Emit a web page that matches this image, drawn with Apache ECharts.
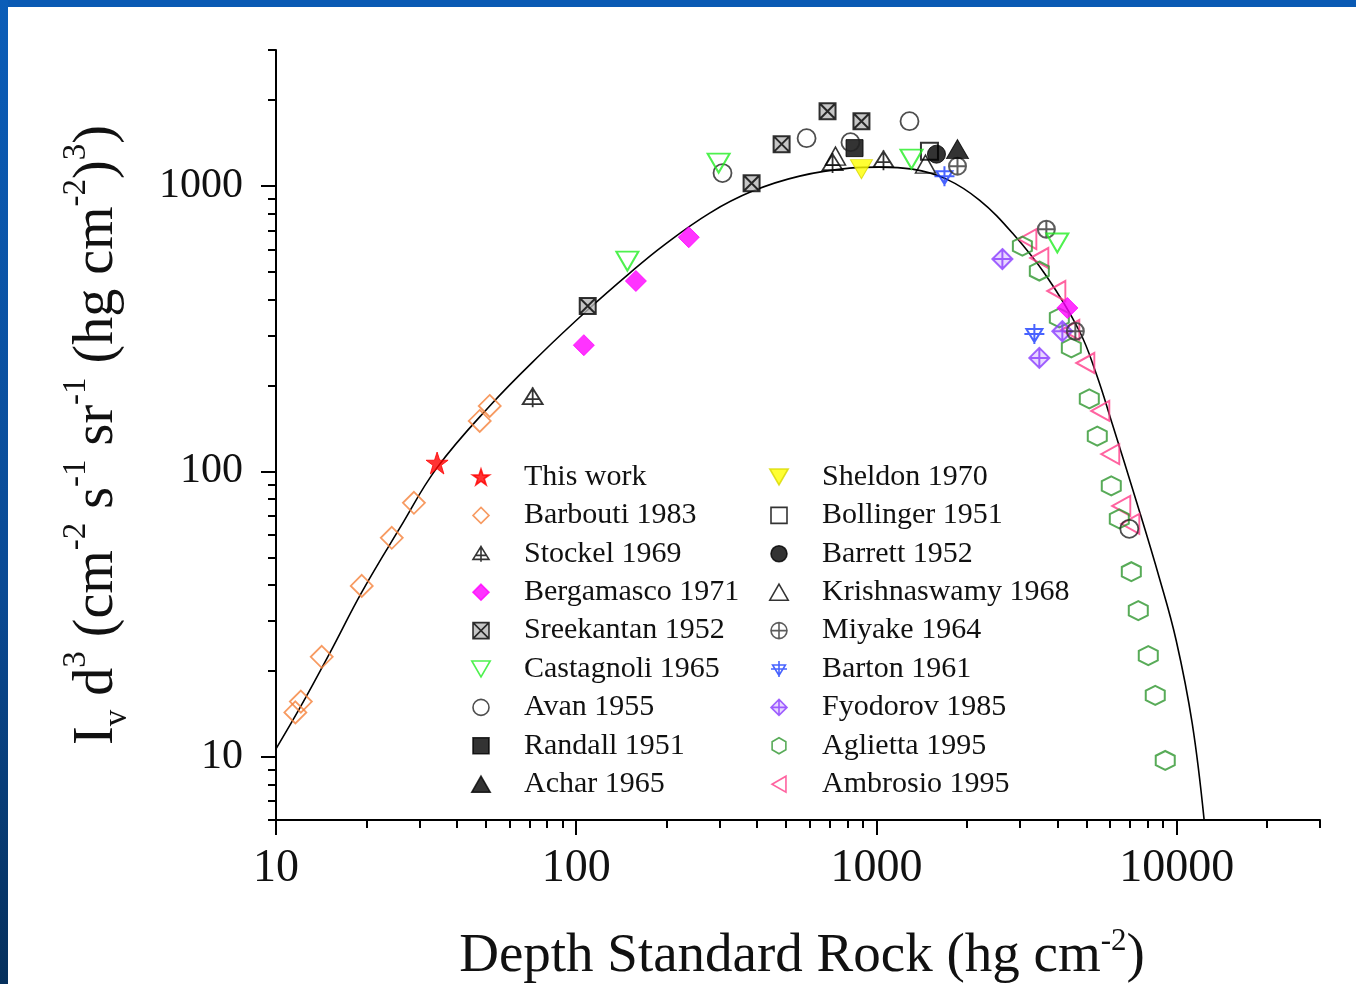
<!DOCTYPE html>
<html>
<head>
<meta charset="utf-8">
<title>Depth intensity</title>
<script src="https://cdn.jsdelivr.net/npm/echarts@6.0.0/dist/echarts.min.js"></script>
<style>
html, body { margin: 0; padding: 0; background: #fff; }
#chart { width: 1356px; height: 984px; }
</style>
</head>
<body>
<div id="chart"></div>
<script>
// fitted curve (depth, I*d^3)
var curve = [[10,10.66],[12.02,14.85],[15.12,23.14],[19.33,37.84],[25.86,63.4],[34.35,102.9],[51.5,169.6],[75.6,255.9],[110,370.9],[150.7,495.8],[194.1,616.6],[278.2,804.5],[386.8,960.5],[554.3,1084],[813.2,1156],[1023,1166],[1317,1147],[1710,1058],[2202,893],[2836,684.5],[3679,483.9],[4738,310.6],[5397,219.5],[6101,146.7],[7332,78.8],[8747,42.4],[9962,25.5],[11264,13.05],[12344,5.97]];

// measurements
var thisWork = [[34.4,107]];
var barbouti = [[51.5,169.6],[47.7,150.3],[28.8,77.6],[24.3,58.5],[19.3,39.7],[14.2,22.4],[12.1,15.6],[11.6,14.3]];
var stockel = [[71.6,182],[714,1204],[1055,1233]];
var bergamasco = [[106,277],[158,465],[237,662],[4322,374]];
var sreekantan = [[109.2,380],[383.7,1024],[483,1403],[687,1831],[891,1689]];
var castagnoli = [[298,1204],[1308,1243],[148,546],[4002,632]];
var avan = [[307,1111],[585,1472],[1288,1689],[819,1426],[6950,62.9]];
var randall = [[845,1359]];
var achar = [[1861,1348]];
var sheldon = [[891,1147]];
var bollinger = [[1501,1326]];
var barrett = [[1584,1294]];
var krishnaswamy = [[730,1274],[1456,1194]];
var miyake = [[3679,706],[1861,1175],[4595,310]];
var barton = [[1684,1084],[3356,303]];
var fyodorov = [[2626,555],[3486,250],[4159,310]];
var aglietta = [[3061,616],[3486,504],[4064,345],[4456,271],[5114,179.5],[5437,133],[6053,89],[6437,68.2],[7058,44.5],[7446,32.5],[8039,22.6],[8481,16.4],[9156,9.7]];
var ambrosio = [[3180,652],[3486,560],[3972,429],[4422,313],[4961,240],[5565,163],[6006,115],[6536,75.7],[7004,65.5]];

var legendLeft = ['This work','Barbouti 1983','Stockel 1969','Bergamasco 1971','Sreekantan 1952','Castagnoli 1965','Avan 1955','Randall 1951','Achar 1965'];
var legendRight = ['Sheldon 1970','Bollinger 1951','Barrett 1952','Krishnaswamy 1968','Miyake 1964','Barton 1961','Fyodorov 1985','Aglietta 1995','Ambrosio 1995'];

var xMajor = [10, 100, 1000, 10000];
var xMinor = [20,30,40,50,60,70,80,90,200,300,400,500,600,700,800,900,2000,3000,4000,5000,6000,7000,8000,9000,20000,30000];
var yMajor = [10, 100, 1000];
var yMinor = [6,7,8,9,20,30,40,50,60,70,80,90,200,300,400,500,600,700,800,900,2000,3000];

var SERIF = "'Liberation Serif', 'Times New Roman', serif";

// symbol shapes
var S = {
  star: 'path://M50,0 L61.8,35.4 L100,35.4 L69.1,57.3 L80.9,95.1 L50,72.4 L19.1,95.1 L30.9,57.3 L0,35.4 L38.2,35.4 Z',
  diamond: 'path://M50,0 L100,50 L50,100 L0,50 Z',
  circle: 'path://M0,50 A50,50 0 1,1 100,50 A50,50 0 1,1 0,50 Z',
  square: 'path://M0,0 L100,0 L100,100 L0,100 Z',
  triUp: 'path://M50,0 L100,87 L0,87 Z',
  triDown: 'path://M0,0 L100,0 L50,87 Z',
  triLeft: 'path://M0,50 L87,0 L87,100 Z',
  hexagon: 'path://M50,0 L93,25 L93,75 L50,100 L7,75 L7,25 Z',
  triPlus: 'path://M50,5 L100,85 L0,85 Z M50,0 L50,100 M12,60 L88,60',
  boxX: 'path://M0,0 L100,0 L100,100 L0,100 Z M0,0 L100,100 M100,0 L0,100',
  circlePlus: 'path://M0,50 A50,50 0 1,1 100,50 A50,50 0 1,1 0,50 Z M50,0 L50,100 M0,50 L100,50',
  trident: 'path://M10,25 L90,25 L50,90 Z M50,0 L50,100 M0,50 L100,50',
  diamondPlus: 'path://M50,0 L100,50 L50,100 L0,50 Z M50,0 L50,100 M0,50 L100,50'
};

var NONE = 'rgba(0,0,0,0)';
function sc(name, data, symbol, size, fill, stroke, bw) {
  return {
    name: name, type: 'scatter', data: data, symbol: symbol, symbolSize: size,
    itemStyle: { color: fill, borderColor: stroke, borderWidth: bw },
    z: 3
  };
}

var series = [
  { name: 'fit', type: 'line', data: curve, smooth: 0.4, showSymbol: false, symbol: 'none',
    lineStyle: { color: '#000', width: 1.6 }, z: 2, silent: true },
  sc('Ambrosio 1995', ambrosio, S.triLeft, [18, 20], NONE, '#ff3c88', 2),
  sc('Aglietta 1995', aglietta, S.hexagon, [19, 19], NONE, '#2e962e', 2),
  sc('Fyodorov 1985', fyodorov, S.diamondPlus, [20, 20], 'rgba(138,60,255,0.25)', '#8a3cff', 2),
  sc('Barton 1961', barton, S.trident, [20, 20], NONE, '#1a3cff', 2),
  sc('Miyake 1964', miyake, S.circlePlus, [17, 17], NONE, '#333', 2),
  sc('Krishnaswamy 1968', krishnaswamy, S.triUp, [20, 18], NONE, '#000', 1.5),
  sc('Barrett 1952', barrett, S.circle, [18, 18], '#000', '#000', 1),
  sc('Bollinger 1951', bollinger, S.square, [17, 17], NONE, '#000', 2),
  sc('Sheldon 1970', sheldon, S.triDown, [22, 19], '#ffff00', '#d8d800', 1),
  sc('Achar 1965', achar, S.triUp, [22, 19], '#000', '#000', 1),
  sc('Randall 1951', randall, S.square, [17, 17], '#000', '#000', 1),
  sc('Avan 1955', avan, S.circle, [18, 18], NONE, '#222', 1.8),
  sc('Castagnoli 1965', castagnoli, S.triDown, [22, 19], NONE, '#22ee22', 2),
  sc('Sreekantan 1952', sreekantan, S.boxX, [16, 16], '#b8b8b8', '#000', 2),
  sc('Bergamasco 1971', bergamasco, S.diamond, [21, 21], '#ff00ff', '#ff00ff', 1),
  sc('Stockel 1969', stockel, S.triPlus, [20, 20], NONE, '#000', 1.8),
  sc('Barbouti 1983', barbouti, S.diamond, [22, 22], NONE, '#f5813a', 1.8),
  sc('This work', thisWork, S.star, [22, 22], '#ff0000', '#ff0000', 1)
];

function legendAt(left, names) {
  return {
    data: names, orient: 'vertical', left: left, top: 457,
    itemWidth: 76, itemHeight: 16, itemGap: 8.4, symbolKeepAspect: true,
    selectedMode: false,
    itemStyle: { borderWidth: 1.6 },
    textStyle: { fontFamily: SERIF, fontSize: 30, color: '#111', lineHeight: 30 }
  };
}

var tickLine = { color: '#000', width: 2 };

var option = {
  animation: false,
  backgroundColor: '#fff',
  grid: { left: 276, right: 36, top: 50, bottom: 164, outerBoundsMode: 'none' },
  graphic: [
    { type: 'rect', shape: { x: 0, y: 0, width: 1356, height: 7 }, style: { fill: '#0a5ab4' }, silent: true },
    { type: 'rect', shape: { x: 0, y: 0, width: 8, height: 984 }, silent: true,
      style: { fill: new echarts.graphic.LinearGradient(0, 0, 0, 1, [
        { offset: 0, color: '#0b5db8' }, { offset: 0.6, color: '#0a4a94' }, { offset: 1, color: '#06305c' }]) } }
  ],
  legend: [legendAt(466, legendLeft), legendAt(764, legendRight)],
  xAxis: [{
    type: 'log', logBase: 10, min: 10, max: 30000, position: 'bottom',
    name: 'Depth Standard Rock (hg cm{sup|-2})',
    nameLocation: 'middle', nameGap: 106, nameMoveOverlap: false,
    nameTextStyle: {
      fontFamily: SERIF, fontSize: 55, color: '#111', lineHeight: 62, padding: [0, 0, 0, 8],
      rich: { sup: { fontFamily: SERIF, fontSize: 31, color: '#111', verticalAlign: 'top', lineHeight: 30 } }
    },
    axisLine: { show: true, lineStyle: tickLine },
    axisTick: { show: true, length: 15, lineStyle: tickLine, customValues: xMajor },
    splitLine: { show: false },
    axisLabel: {
      customValues: xMajor, margin: 26, fontFamily: SERIF, fontSize: 46, color: '#111',
      formatter: function (v) { return String(Math.round(v)); }
    }
  }, {
    type: 'log', logBase: 10, min: 10, max: 30000, position: 'bottom',
    axisLine: { show: false },
    axisTick: { show: true, length: 8, lineStyle: tickLine, customValues: xMinor },
    axisLabel: { show: false }, splitLine: { show: false }
  }],
  yAxis: [{
    type: 'log', logBase: 10, min: 6, max: 3000, position: 'left',
    name: 'I{sub|v} d{sup|3} (cm{sup|-2} s{sup|-1} sr{sup|-1} (hg cm{sup|-2}){sup|3})',
    nameLocation: 'middle', nameRotate: 90, nameGap: 142, nameMoveOverlap: false,
    nameTextStyle: {
      fontFamily: SERIF, fontSize: 56, color: '#111', lineHeight: 74,
      rich: {
        sup: { fontFamily: SERIF, fontSize: 33, color: '#111', verticalAlign: 'top', lineHeight: 32 },
        sub: { fontFamily: SERIF, fontSize: 33, color: '#111', verticalAlign: 'bottom', lineHeight: 30 }
      }
    },
    axisLine: { show: true, lineStyle: tickLine },
    axisTick: { show: true, length: 15, lineStyle: tickLine, customValues: yMajor },
    splitLine: { show: false },
    axisLabel: {
      customValues: yMajor, margin: 33, fontFamily: SERIF, fontSize: 42, color: '#111',
      formatter: function (v) { return String(Math.round(v)); }
    }
  }, {
    type: 'log', logBase: 10, min: 6, max: 3000, position: 'left',
    axisLine: { show: false },
    axisTick: { show: true, length: 8, lineStyle: tickLine, customValues: yMinor },
    axisLabel: { show: false }, splitLine: { show: false }
  }],
  series: series
};

var myChart = echarts.init(document.getElementById('chart'));
myChart.setOption(option);
</script>
</body>
</html>
